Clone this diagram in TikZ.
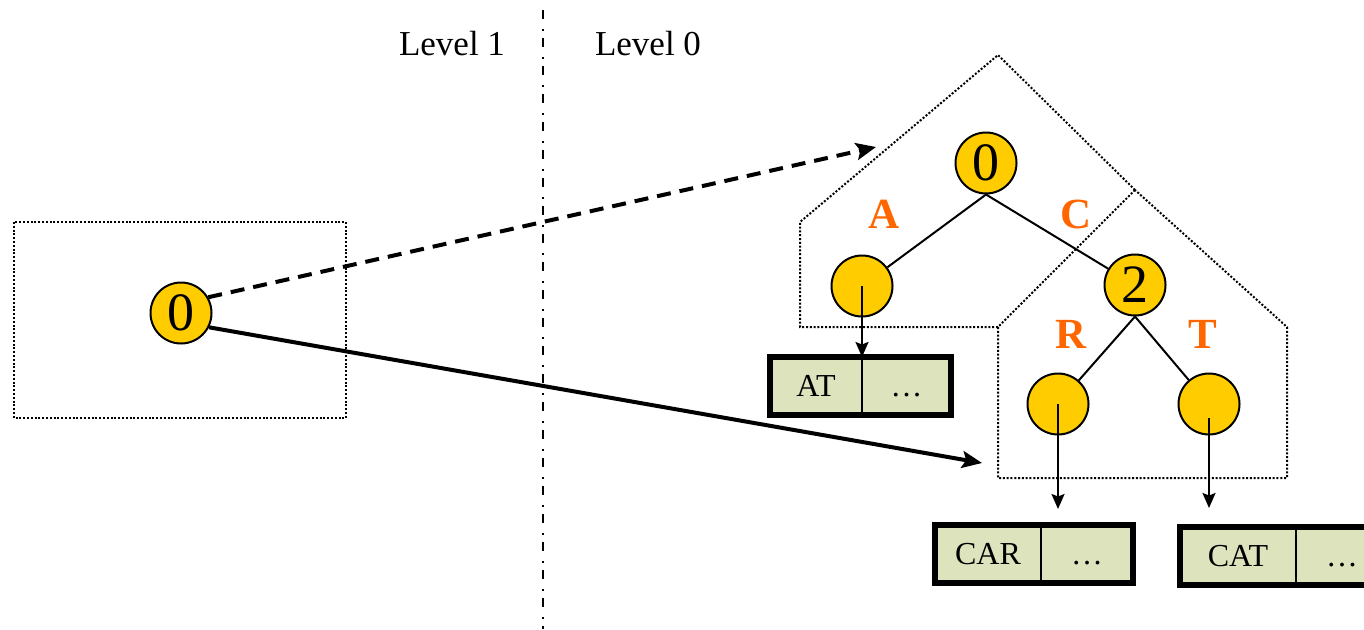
\documentclass[tikz,border=0pt]{standalone}
\usepackage{fontspec}
\setmainfont{Liberation Serif}
\usetikzlibrary{arrows.meta, positioning}

\definecolor{trieyellow}{RGB}{255,204,0}
\definecolor{labelorange}{RGB}{255,102,0}
\definecolor{leafgreen}{RGB}{221,227,188}

\newcommand{\recdots}{.\kern2.6pt.\kern2.6pt.}

\begin{document}
\begin{tikzpicture}[x=1pt, y=-1pt,
    trienode/.style={circle, draw, line width=2pt, fill=trieyellow, minimum size=61pt, inner sep=0pt, font=\fontsize{54}{54}\selectfont},
    edgelabel/.style={anchor=base, text=labelorange, font=\fontsize{43}{43}\selectfont\bfseries},
    levellabel/.style={anchor=base, font=\fontsize{35}{35}\selectfont},
    cell/.style={rectangle, draw, line width=2pt, fill=leafgreen, inner sep=0pt, outer sep=0pt, minimum height=58pt, text height=21pt, text depth=0pt, font=\fontsize{32}{32}\selectfont},
    record/.style={line width=6pt},
    region/.style={line width=2pt, dash pattern=on 2pt off 1.8pt},
    treeedge/.style={line width=2pt},
    bigptr/.style={-{Stealth[length=20pt,width=17pt,inset=4pt]}, line width=4pt},
    ptr/.style={-{Stealth[length=15pt,width=13pt,inset=2.5pt]}, line width=2pt}]
    \useasboundingbox (0,0) rectangle (1364,629);

    \draw[line width=2.5pt, dash pattern=on 9pt off 10pt on 2pt off 7pt] (543,10) -- (543,629);
    \node[levellabel] (lev1) at (452,55) {Level 1};
    \node[levellabel] (lev0) at (648,55) {Level 0};

    \draw[region] (14,222) rectangle (346,418);
    \draw[region] (1135,190) -- (998,327) -- (998,478) -- (1287,478) -- (1287,327) -- cycle;
    \draw[region] (998,327) -- (800,327) -- (800,222) -- (998,55) -- (1135,190);

    \node[trienode] (l1root) at (181,313) {0};
    \node[trienode] (root) at (986,163) {0};
    \node[trienode] (nA) at (862,286) {};
    \node[trienode] (nC) at (1135,285) {2};
    \node[trienode] (nR) at (1058,404) {};
    \node[trienode] (nT) at (1209,404) {};

    \draw[treeedge] (root.south) -- (nA);
    \draw[treeedge] (root.south) -- (nC);
    \draw[treeedge] (nC.south) -- (nR);
    \draw[treeedge] (nC.south) -- (nT);

    \node[edgelabel] (labA) at (884,228) {A};
    \node[edgelabel] (labC) at (1076,228) {C};
    \node[edgelabel] (labR) at (1071,348) {R};
    \node[edgelabel] (labT) at (1203,348) {T};

    \node[cell, minimum width=92pt, anchor=north west] (atkey) at (770,357) {AT};
    \node[cell, minimum width=89pt, right=0pt of atkey] (atrest) {\recdots};
    \draw[record] (atkey.north west) rectangle (atrest.south east);

    \node[cell, minimum width=106pt, anchor=north west] (carkey) at (935,525) {CAR};
    \node[cell, minimum width=92pt, right=0pt of carkey] (carrest) {\recdots};
    \draw[record] (carkey.north west) rectangle (carrest.south east);

    \node[cell, minimum width=116pt, anchor=north west] (catkey) at (1180,527) {CAT};
    \node[cell, minimum width=92pt, right=0pt of catkey] (catrest) {\recdots};
    \draw[record] (catkey.north west) rectangle (catrest.south east);

    \draw[ptr] (nA.center) -- (nA.center |- atkey.north);
    \draw[ptr, shorten >=16pt] (nR.center) -- (nR.center |- carkey.north);
    \draw[ptr, shorten >=19pt] ([yshift=-14pt]nT.center) -- (nT.center |- catkey.north);

    \coordinate (trieIn) at (876,147);
    \coordinate (subIn) at (982,463);
    \draw[bigptr, dash pattern=on 14pt off 9pt] (l1root.30) -- (trieIn);
    \draw[bigptr] (l1root.-27) -- (subIn);
\end{tikzpicture}
\end{document}
